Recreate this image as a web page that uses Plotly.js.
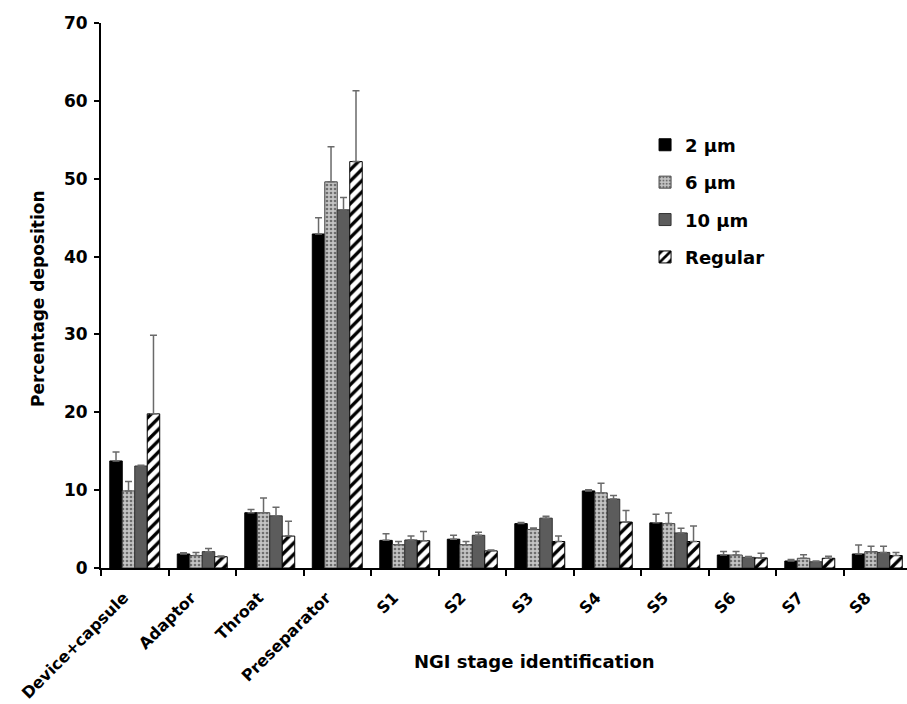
<!DOCTYPE html>
<html>
<head>
<meta charset="utf-8">
<script src="https://cdn.plot.ly/plotly-3.0.1.min.js"></script>
<style>html,body{margin:0;padding:0;background:#fff;}#chart{width:907px;height:704px;}</style>
</head>
<body>
<div id="chart"></div>
<script>
const categories = ["Device+capsule","Adaptor","Throat","Preseparator","S1","S2","S3","S4","S5","S6","S7","S8"];
const seriesNames = ["2 \u00b5m","6 \u00b5m","10 \u00b5m","Regular"];
const val2um   = [13.75, 1.8, 7.1, 42.9, 3.55, 3.7, 5.7, 9.9, 5.8, 1.67, 0.9, 1.8];
const err2um   = [1.15, 0.15, 0.4, 2.1, 0.85, 0.5, 0.15, 0.15, 1.1, 0.45, 0.2, 1.15];
const val6um   = [9.9, 1.6, 7.1, 49.6, 3.0, 3.0, 4.95, 9.65, 5.7, 1.67, 1.25, 2.1];
const err6um   = [1.2, 0.4, 1.9, 4.5, 0.4, 0.4, 0.2, 1.25, 1.35, 0.45, 0.45, 0.7];
const val10um  = [13.1, 2.1, 6.7, 46.0, 3.6, 4.2, 6.4, 8.85, 4.5, 1.37, 0.8, 2.0];
const err10um  = [0.1, 0.4, 1.1, 1.6, 0.5, 0.4, 0.25, 0.45, 0.6, 0.1, 0.1, 0.8];
const valReg   = [19.8, 1.45, 4.1, 52.2, 3.5, 2.2, 3.4, 5.9, 3.4, 1.3, 1.25, 1.6];
const errReg   = [10.1, 0.1, 1.9, 9.1, 1.2, 0.1, 0.7, 1.5, 2.0, 0.6, 0.25, 0.4];
const yTicks = [0, 10, 20, 30, 40, 50, 60, 70];

const FONT = "DejaVu Sans, Verdana, sans-serif";
const zeros = categories.map(() => 0);
function mk(name, y, e, marker, grp) {
  return {
    type: "bar", name: name, x: categories, y: y, legendgroup: grp,
    marker: marker,
    error_y: {type: "data", symmetric: false, array: e, arrayminus: zeros,
              color: "#6a6a6a", thickness: 1.5, width: 3.5}
  };
}
const data = [
  mk(seriesNames[0], val2um, err2um, {color: "#000000", line: {color: "#000", width: 1}}, "a"),
  mk(seriesNames[1], val6um, err6um, {color: "#b4b4b4", line: {color: "#444", width: 1},
      pattern: {shape: ".", fgcolor: "#6e6e6e", bgcolor: "#c4c4c4", size: 4, solidity: 0.35}}, "b"),
  mk(seriesNames[2], val10um, err10um, {color: "#5c5c5c", line: {color: "#333", width: 1}}, "c"),
  mk(seriesNames[3], valReg, errReg, {color: "#ffffff", line: {color: "#000", width: 1},
      pattern: {shape: "/", fgcolor: "#000000", bgcolor: "#ffffff", size: 8, solidity: 0.42}}, "d")
];
const layout = {
  width: 907, height: 704,
  margin: {l: 101, r: 0, t: 23, b: 136},
  paper_bgcolor: "#fff", plot_bgcolor: "#fff",
  barmode: "group", bargap: 0.26, bargroupgap: 0,
  font: {family: FONT, color: "#000"},
  showlegend: true,
  legend: {x: 0.675, y: 0.81, xanchor: "left", yanchor: "top",
           font: {family: FONT, size: 18, weight: "bold", color: "#000"},
           traceorder: "grouped", tracegroupgap: 11, bgcolor: "rgba(0,0,0,0)"},
  xaxis: {
    type: "category", range: [-0.5, 11.44],
    showline: true, linecolor: "#000", linewidth: 2,
    ticks: "outside", tickson: "boundaries", ticklen: 6, tickwidth: 2, tickcolor: "#000",
    tickangle: -45, showgrid: false, zeroline: false,
    ticklabelstandoff: 12, ticklabelshift: -11,
    tickfont: {family: FONT, size: 16, weight: "bold", color: "#000"}
  },
  yaxis: {
    range: [0, 70], tickvals: yTicks, ticktext: yTicks.map(String),
    showline: true, linecolor: "#000", linewidth: 2,
    ticks: "outside", ticklen: 5, tickwidth: 2, tickcolor: "#000",
    ticklabelstandoff: 3,
    showgrid: false, zeroline: false,
    tickfont: {family: FONT, size: 17, weight: "bold", color: "#000"}
  },
  annotations: [
    {text: "NGI stage identification", xref: "paper", yref: "paper",
     x: (534 - 101) / 806, y: (568 - 661) / 545, xanchor: "center", yanchor: "middle",
     showarrow: false, font: {family: FONT, size: 18, weight: "bold", color: "#000"}},
    {text: "Percentage deposition", xref: "paper", yref: "paper", textangle: -90,
     x: (38 - 101) / 806, y: (568 - 299) / 545, xanchor: "center", yanchor: "middle",
     showarrow: false, font: {family: FONT, size: 17, weight: "bold", color: "#000"}}
  ]
};
Plotly.newPlot("chart", data, layout, {displayModeBar: false, staticPlot: true});
</script>
</body>
</html>
